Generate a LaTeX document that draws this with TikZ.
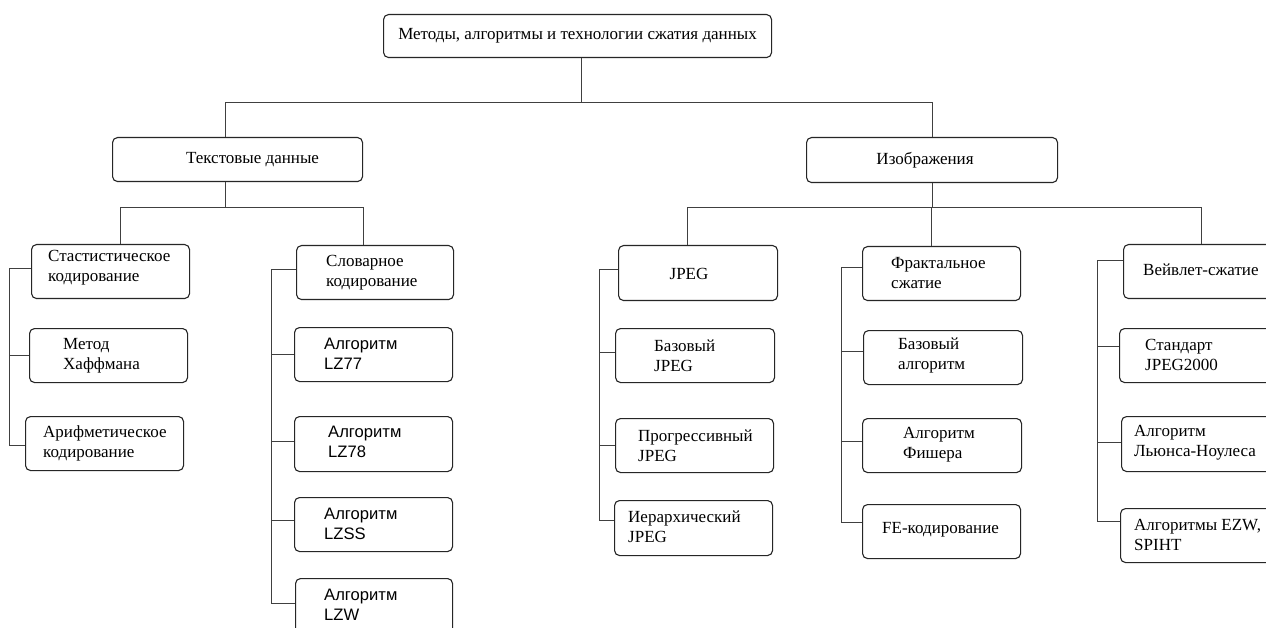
\documentclass[tikz,border=0pt]{standalone}
\usepackage{fontspec}
\setmainfont{Liberation Serif}
\newfontfamily\arialfont{Liberation Sans}
\begin{document}
\begin{tikzpicture}[x=1pt,y=-1pt,
  boxst/.style={draw=black!85,line width=1.1pt,rounded corners=5pt,inner sep=0pt},
  lbl/.style={anchor=west,align=left,inner sep=0pt,font=\fontsize{17}{20}\selectfont},
  lbla/.style={anchor=west,align=left,inner sep=0pt,font=\arialfont\fontsize{16.6}{20}\selectfont},
  conn/.style={draw=black!75,line width=0.8pt}]
\useasboundingbox (0,0) rectangle (1266,628);
\fill[white] (0,0) rectangle (1266,628);
\newcommand\mkbox[5]{\node[boxst,minimum width=#4-#2,minimum height=#5-#3,anchor=north west] (#1) at (#2,#3) {};}
\mkbox{top}{383}{14}{771}{57}
\mkbox{txt}{112}{137}{362}{181}
\mkbox{img}{806}{137}{1057}{182}
\mkbox{stat}{31}{244}{189}{298}
\mkbox{huff}{29}{328}{187}{382}
\mkbox{arith}{25}{416}{183}{470}
\mkbox{dict}{296}{245}{453}{299}
\mkbox{lzss}{294}{497}{452}{551}
\mkbox{lzsv}{294}{327}{452}{381}
\mkbox{lzse}{294}{416}{452}{471}
\mkbox{lzw}{295}{578}{452}{634}
\mkbox{jpeg}{618}{245}{777}{300}
\mkbox{bjpeg}{615}{328}{774}{382}
\mkbox{pjpeg}{615}{418}{773}{472}
\mkbox{hjpeg}{614}{500}{772}{555}
\mkbox{frac}{862}{246}{1020}{300}
\mkbox{fbase}{863}{330}{1022}{384}
\mkbox{fish}{862}{418}{1021}{472}
\mkbox{fe}{862}{504}{1020}{558}
\mkbox{wav}{1123}{244}{1278}{298}
\mkbox{jtk}{1119}{328}{1278}{382}
\mkbox{lewis}{1121}{416}{1278}{471}
\mkbox{ezw}{1120}{508}{1278}{562}
% texts
\node[lbl,anchor=center] (top-t) at (top.center) {Методы, алгоритмы и технологии сжатия данных};
\node[lbl,anchor=center] (txt-t) at ([xshift=15]txt.center) {Текстовые данные};
\node[lbl,anchor=center] (img-t) at ([xshift=-7]img.center) {Изображения};
\node[lbl] (stat-t) at (48,268) {Стастистическое\\кодирование};
\node[lbl] (huff-t) at (63,356) {Метод\\Хаффмана};
\node[lbl] (arith-t) at (43,443) {Арифметическое\\кодирование};
\node[lbl] (dict-t) at (326,273) {Словарное\\кодирование};
\node[lbla] (lzsv-t) at (324,354) {Алгоритм\\LZ77};
\node[lbla] (lzse-t) at (328,442) {Алгоритм\\LZ78};
\node[lbla] (lzss-t) at (324,524) {Алгоритм\\LZSS};
\node[lbla] (lzw-t) at (324,605) {Алгоритм\\LZW};
\node[lbl,anchor=center] (jpeg-t) at (689,274) {JPEG};
\node[lbl] (bjpeg-t) at (654,356) {Базовый\\JPEG};
\node[lbl] (pjpeg-t) at (638,446) {Прогрессивный\\JPEG};
\node[lbl] (hjpeg-t) at (628,527) {Иерархический\\JPEG};
\node[lbl] (frac-t) at (891,273) {Фрактальное\\сжатие};
\node[lbl] (fbase-t) at (898,355) {Базовый\\алгоритм};
\node[lbl] (fish-t) at (903,445) {Алгоритм\\Фишера};
\node[lbl] (fe-t) at (882,530) {FE-кодирование};
\node[lbl] (wav-t) at (1143,270) {Вейвлет-сжатие};
\node[lbl] (jtk-t) at (1145,355) {Стандарт\\JPEG2000};
\node[lbl] (lewis-t) at (1134,443) {Алгоритм\\Льюнса-Ноулеса};
\node[lbl] (ezw-t) at (1134,535) {Алгоритмы EZW,\\SPIHT};
% bus coordinates
\coordinate (busa) at (0,102);
\coordinate (busb) at (0,207);
% level 1
\draw[conn] ([xshift=4]top.south) -- ([xshift=4]top.south |- busa);
\draw[conn] ([xshift=-12]txt.north) |- (img.north |- busa) -- (img.north);
% level 2 text
\draw[conn] ([xshift=-12]txt.south) -- ([xshift=-12]txt.south |- busb);
\draw[conn] ([xshift=10]stat.north) |- ([xshift=-12]dict.north |- busb) -- ([xshift=-12]dict.north);
% level 2 images
\draw[conn] (img.south) -- (img.south |- busb);
\draw[conn] ([xshift=-11]jpeg.north) |- (wav.north |- busb) -- (wav.north);
\draw[conn] ([xshift=-10]frac.north) -- ([xshift=-10]frac.north |- busb);
% spines
\coordinate (sp1) at (9.5,0);
\coordinate (sp2) at (271,0);
\coordinate (sp3) at (599,0);
\coordinate (sp4) at (841,0);
\coordinate (sp5) at (1097,0);
\draw[conn] ([yshift=3]stat.west) -- ([yshift=3]stat.west -| sp1) -- ([yshift=-2]arith.west -| sp1) -- ([yshift=-2]arith.west);
\draw[conn] (huff.west) -- (huff.west -| sp1);
\draw[conn] ([yshift=3]dict.west) -- ([yshift=3]dict.west -| sp2) -- ([yshift=3]lzw.west -| sp2) -- ([yshift=3]lzw.west);
\draw[conn] (lzsv.west) -- (lzsv.west -| sp2);
\draw[conn] ([yshift=3]lzse.west) -- ([yshift=3]lzse.west -| sp2);
\draw[conn] ([yshift=4]lzss.west) -- ([yshift=4]lzss.west -| sp2);
\draw[conn] ([yshift=4]jpeg.west) -- ([yshift=4]jpeg.west -| sp3) -- ([yshift=8]hjpeg.west -| sp3) -- ([yshift=8]hjpeg.west);
\draw[conn] ([yshift=3]bjpeg.west) -- ([yshift=3]bjpeg.west -| sp3);
\draw[conn] (pjpeg.west) -- (pjpeg.west -| sp3);
\draw[conn] ([yshift=6]frac.west) -- ([yshift=6]frac.west -| sp4) -- ([yshift=9]fe.west -| sp4) -- ([yshift=9]fe.west);
\draw[conn] ([yshift=6]fbase.west) -- ([yshift=6]fbase.west -| sp4);
\draw[conn] ([yshift=4]fish.west) -- ([yshift=4]fish.west -| sp4);
\draw[conn] ([yshift=11]wav.west) -- ([yshift=11]wav.west -| sp5) -- ([yshift=14]ezw.west -| sp5) -- ([yshift=14]ezw.west);
\draw[conn] ([yshift=9]jtk.west) -- ([yshift=9]jtk.west -| sp5);
\draw[conn] ([yshift=2]lewis.west) -- ([yshift=2]lewis.west -| sp5);
\end{tikzpicture}
\end{document}
